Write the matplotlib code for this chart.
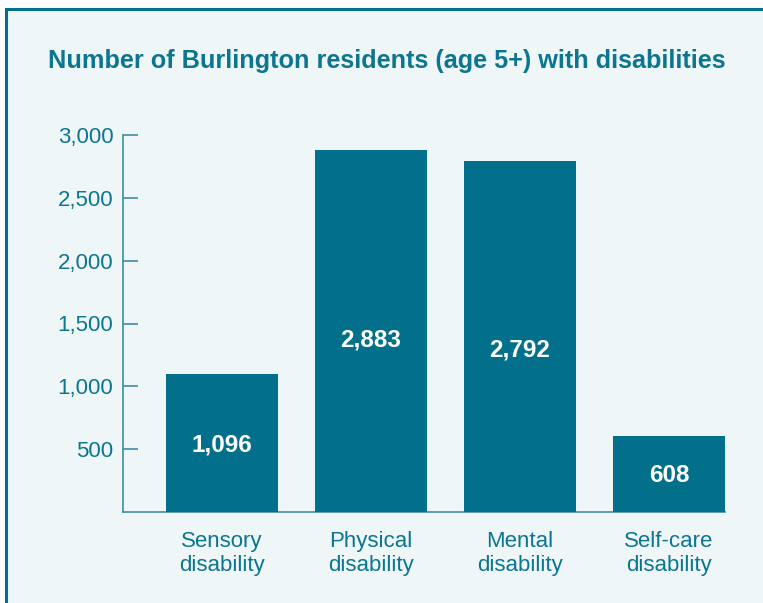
import matplotlib
matplotlib.use("Agg")
import matplotlib.pyplot as plt
from matplotlib.patches import Rectangle
from matplotlib.ticker import FuncFormatter

categories = ["Sensory\ndisability", "Physical\ndisability", "Mental\ndisability", "Self-care\ndisability"]
values = [1096, 2883, 2792, 608]
value_labels = ["1,096", "2,883", "2,792", "608"]
yticks = [500, 1000, 1500, 2000, 2500, 3000]
title = "Number of Burlington residents (age 5+) with disabilities"

TEAL = "#02708B"
TEXT = "#0C7590"
BG = "#EEF6F8"

plt.rcParams['font.family'] = ['Liberation Sans', 'DejaVu Sans']

W, H = 763, 603
fig = plt.figure(figsize=(W / 100, H / 100), dpi=100)
fig.patch.set_facecolor("white")

# panel background with teal border on left/top
bx = 5.5 / W
by_top = 1 - 9.5 / H
fig.patches.append(Rectangle((bx, -0.05), 1.2, by_top + 0.05, transform=fig.transFigure,
                             facecolor=BG, edgecolor=TEAL, linewidth=2.2, zorder=-10))

ax = fig.add_axes([123 / W, (H - 512) / H, (725 - 123) / W, (512 - 135) / H])
ax.set_facecolor("none")

x = list(range(len(values)))
bars = ax.bar(x, values, width=0.75, color=TEAL, zorder=3)

ax.set_xlim(-0.664, 3.375)
ax.set_ylim(0, 3000)
ax.set_yticks(yticks)
ax.yaxis.set_major_formatter(FuncFormatter(lambda v, p: f"{int(v):,}"))
ax.set_xticks(x)
ax.set_xticklabels(categories, fontsize=16, color=TEXT, linespacing=1.15)

for s in ["top", "right"]:
    ax.spines[s].set_visible(False)
for s in ["left", "bottom"]:
    ax.spines[s].set_color("#3D8FA5")
    ax.spines[s].set_linewidth(1.2)

ax.tick_params(axis="y", direction="in", length=11, width=1.2, color="#3D8FA5",
               labelsize=16, labelcolor=TEXT, pad=7)
ax.tick_params(axis="x", length=0, pad=14)

offsets = [-2, -9, -13, -2]
for xi, v, lab, off in zip(x, values, value_labels, offsets):
    ax.annotate(lab, (xi, v / 2), xytext=(0, off), textcoords="offset pixels",
                ha="center", va="center", color="white", fontsize=17.5, fontweight="bold", zorder=4)

fig.text(387 / W, 1 - 61 / H, title, ha="center", va="center", fontsize=18.2,
         fontweight="bold", color=TEXT)

fig.savefig("out.png", dpi=100)
